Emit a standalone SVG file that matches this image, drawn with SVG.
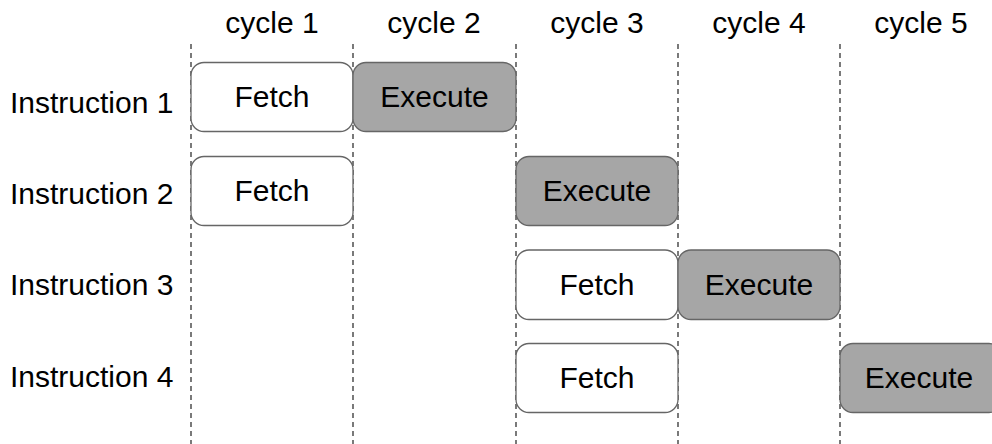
<svg xmlns="http://www.w3.org/2000/svg" width="992" height="444" viewBox="0 0 992 444">
<style>
text{font-family:"Liberation Sans",Arial,sans-serif;font-size:30px;fill:#000}
.lbl{text-anchor:middle}
.grid{stroke:#333;stroke-width:1.3;stroke-dasharray:5,4;fill:none}
.f{fill:#fff;stroke:#666;stroke-width:1.3}
.e{fill:#a6a6a6;stroke:#666;stroke-width:1.3}
</style>
<rect width="992" height="444" fill="#fff"/>
<g id="connectors">
<line class="grid" x1="191" y1="44" x2="191" y2="444"/>
<line class="grid" x1="353" y1="44" x2="353" y2="444"/>
<line class="grid" x1="516" y1="44" x2="516" y2="444"/>
<line class="grid" x1="678" y1="44" x2="678" y2="444"/>
<line class="grid" x1="840" y1="44" x2="840" y2="444"/>
</g>
<g id="headers">
<text class="lbl" x="272" y="33">cycle 1</text>
<text class="lbl" x="434" y="33">cycle 2</text>
<text class="lbl" x="597" y="33">cycle 3</text>
<text class="lbl" x="759" y="33">cycle 4</text>
<text class="lbl" x="921" y="33">cycle 5</text>
</g>
<g id="rows">
<text x="10" y="112.5">Instruction 1</text>
<text x="10" y="203.5">Instruction 2</text>
<text x="10" y="295">Instruction 3</text>
<text x="10" y="386.5">Instruction 4</text>
</g>
<g id="i1-fetch"><rect class="f" x="191" y="62.5" width="162" height="69" rx="13"/><text class="lbl" x="272" y="107">Fetch</text></g>
<g id="i1-exec"><rect class="e" x="353" y="62.5" width="163" height="69" rx="13"/><text class="lbl" x="434.5" y="107">Execute</text></g>
<g id="i2-fetch"><rect class="f" x="191" y="156.5" width="162" height="69" rx="13"/><text class="lbl" x="272" y="201">Fetch</text></g>
<g id="i2-exec"><rect class="e" x="516" y="156.5" width="162" height="69" rx="13"/><text class="lbl" x="597" y="201">Execute</text></g>
<g id="i3-fetch"><rect class="f" x="516" y="250" width="162" height="69.5" rx="13"/><text class="lbl" x="597" y="294.5">Fetch</text></g>
<g id="i3-exec"><rect class="e" x="678" y="250" width="162" height="69.5" rx="13"/><text class="lbl" x="759" y="294.5">Execute</text></g>
<g id="i4-fetch"><rect class="f" x="516" y="343.5" width="162" height="69" rx="13"/><text class="lbl" x="597" y="388">Fetch</text></g>
<g id="i4-exec"><rect class="e" x="840" y="343.5" width="162" height="69" rx="13"/><text class="lbl" x="919" y="388">Execute</text></g>
</svg>
